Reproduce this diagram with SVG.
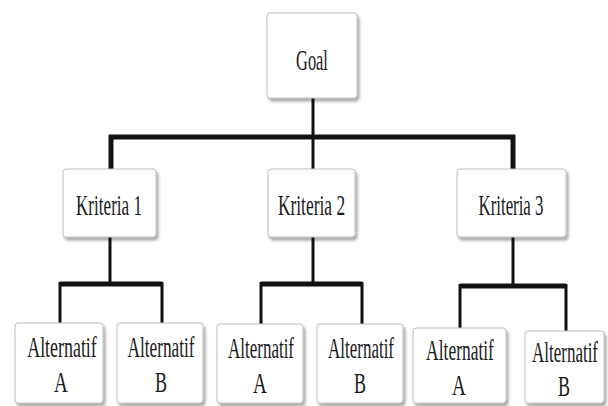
<svg xmlns="http://www.w3.org/2000/svg" width="608" height="406" viewBox="0 0 608 406">
<defs>
<filter id="sh" x="-10%" y="-10%" width="130%" height="130%">
<feDropShadow dx="2" dy="3" stdDeviation="1.5" flood-color="#000" flood-opacity="0.35"/>
</filter>
<style>
.box{fill:#fff;stroke:#bdbdbd;stroke-width:1;filter:url(#sh)}
.t{font-family:"Liberation Serif","Times New Roman",serif;font-size:30px;fill:#1a1a1a;text-anchor:middle}
.c{fill:none;stroke:#111;stroke-linejoin:miter;stroke-linecap:butt}
.v{stroke-width:3}
.h{stroke-width:5}
</style>
</defs>
<rect width="608" height="406" fill="#fff"/>
<g id="connectors">
<path class="c v" d="M313 98V137"/>
<path class="c h" d="M111 169V137H513V169"/>
<path class="c v" d="M111 139V169M513 139V169M313 137V169"/>
<path class="c v" d="M110 237V284"/>
<path class="c h" d="M60 284H162"/>
<path class="c v" d="M60 282V323M162 282V323"/>
<path class="c v" d="M313 237V284"/>
<path class="c h" d="M261 284H362"/>
<path class="c v" d="M261 282V324M362 282V324"/>
<path class="c v" d="M513 237V286"/>
<path class="c h" d="M460 286H566"/>
<path class="c v" d="M460 284V328M566 284V331"/>
</g>
<g id="goal">
<rect class="box" x="267" y="13" width="90" height="85" rx="3"/>
<text class="t" transform="translate(312,70) scale(0.6,1)" textLength="53" lengthAdjust="spacingAndGlyphs">Goal</text>
</g>
<g id="kriteria1">
<rect class="box" x="63" y="169" width="93" height="68" rx="3"/>
<text class="t" transform="translate(109,215) scale(0.6,1)" textLength="110" lengthAdjust="spacingAndGlyphs">Kriteria 1</text>
</g>
<g id="kriteria2">
<rect class="box" x="268" y="169" width="87" height="68" rx="3"/>
<text class="t" transform="translate(311.5,215) scale(0.6,1)" textLength="112" lengthAdjust="spacingAndGlyphs">Kriteria 2</text>
</g>
<g id="kriteria3">
<rect class="box" x="457" y="169" width="109" height="68" rx="3"/>
<text class="t" transform="translate(511,215) scale(0.6,1)" textLength="108" lengthAdjust="spacingAndGlyphs">Kriteria 3</text>
</g>
<g id="k1-alt-a">
<rect class="box" x="15" y="323" width="88" height="80" rx="3"/>
<text class="t" transform="translate(62,357) scale(0.6,1)" textLength="116" lengthAdjust="spacingAndGlyphs">Alternatif</text>
<text class="t" transform="translate(61,392) scale(0.6,1)" textLength="23" lengthAdjust="spacingAndGlyphs">A</text>
</g>
<g id="k1-alt-b">
<rect class="box" x="117" y="323" width="86" height="80" rx="3"/>
<text class="t" transform="translate(161,357) scale(0.6,1)" textLength="112" lengthAdjust="spacingAndGlyphs">Alternatif</text>
<text class="t" transform="translate(161,392) scale(0.6,1)" textLength="20" lengthAdjust="spacingAndGlyphs">B</text>
</g>
<g id="k2-alt-a">
<rect class="box" x="217" y="324" width="86" height="79" rx="3"/>
<text class="t" transform="translate(261,358) scale(0.6,1)" textLength="110" lengthAdjust="spacingAndGlyphs">Alternatif</text>
<text class="t" transform="translate(260,393) scale(0.6,1)" textLength="23" lengthAdjust="spacingAndGlyphs">A</text>
</g>
<g id="k2-alt-b">
<rect class="box" x="317" y="324" width="86" height="79" rx="3"/>
<text class="t" transform="translate(361,358) scale(0.6,1)" textLength="110" lengthAdjust="spacingAndGlyphs">Alternatif</text>
<text class="t" transform="translate(360,393) scale(0.6,1)" textLength="20" lengthAdjust="spacingAndGlyphs">B</text>
</g>
<g id="k3-alt-a">
<rect class="box" x="413" y="328" width="93" height="75" rx="3"/>
<text class="t" transform="translate(460,360) scale(0.6,1)" textLength="113" lengthAdjust="spacingAndGlyphs">Alternatif</text>
<text class="t" transform="translate(459,395) scale(0.6,1)" textLength="23" lengthAdjust="spacingAndGlyphs">A</text>
</g>
<g id="k3-alt-b">
<rect class="box" x="525" y="331" width="79" height="72" rx="3"/>
<text class="t" transform="translate(565,362) scale(0.6,1)" textLength="110" lengthAdjust="spacingAndGlyphs">Alternatif</text>
<text class="t" transform="translate(564,396) scale(0.6,1)" textLength="20" lengthAdjust="spacingAndGlyphs">B</text>
</g>
</svg>
